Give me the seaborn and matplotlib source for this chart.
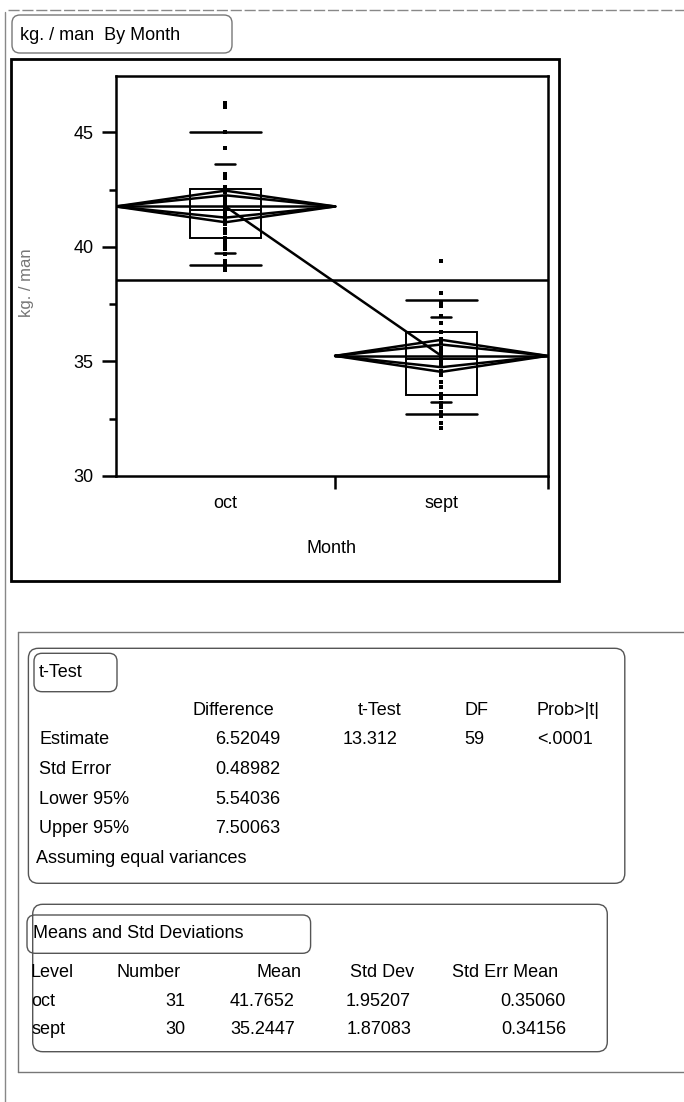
import matplotlib.pyplot as plt
import pandas as pd
import seaborn as sns
from matplotlib.patches import FancyBboxPatch, Rectangle

# ---- data ----
months = ["oct", "sept"]
counts = [31, 30]

oct_values = [
    46.3, 46.1, 45.0, 44.3, 43.2, 43.0, 42.6, 42.4, 42.2, 42.1, 42.0,
    41.9, 41.8, 41.7, 41.6, 41.5, 41.4, 41.3, 41.2, 41.0, 40.8, 40.6,
    40.4, 40.2, 40.1, 39.9, 39.7, 39.4, 39.2, 39.1, 39.0,
]
sept_values = [
    39.4, 38.0, 37.6, 37.4, 37.0, 36.7, 36.3, 36.0, 35.8, 35.6, 35.5,
    35.4, 35.3, 35.2, 35.1, 35.0, 34.9, 34.8, 34.6, 34.4, 34.1, 33.9,
    33.6, 33.4, 33.2, 33.0, 32.8, 32.6, 32.3, 32.1,
]

group_means = [41.7652, 35.2447]
ci_half = [0.69, 0.70]
grand_mean = 38.56
q25 = [40.39, 33.55]
q50 = [41.6, 35.1]
q75 = [42.52, 36.27]
q10 = [39.23, 32.70]
q90 = [45.0, 37.68]
sd_low = [39.74, 33.25]
sd_high = [43.64, 36.94]

yticks = [30, 35, 40, 45]
yminor = [32.5, 37.5, 42.5]

ttest_rows = ["Estimate", "Std Error", "Lower 95%", "Upper 95%"]
ttest_diff = ["6.52049", "0.48982", "5.54036", "7.50063"]
ttest_stat = "13.312"
ttest_df = "59"
ttest_prob = "<.0001"

level_names = ["oct", "sept"]
level_number = ["31", "30"]
level_mean = ["41.7652", "35.2447"]
level_sd = ["1.95207", "1.87083"]
level_sem = ["0.35060", "0.34156"]

# ---- layout helpers ----
W, H = 684, 1102
FS = 13
LW = 1.8

sns.set_theme(style="white")
plt.rcParams["font.family"] = ["Liberation Sans", "DejaVu Sans"]
plt.rcParams["text.color"] = "black"
plt.rcParams["axes.labelcolor"] = "black"
plt.rcParams["xtick.color"] = "black"
plt.rcParams["ytick.color"] = "black"

fig = plt.figure(figsize=(W / 100, H / 100), dpi=100)
fig.patch.set_facecolor("white")

deco = fig.add_axes([0, 0, 1, 1], zorder=0)
deco.set_xlim(0, W)
deco.set_ylim(H, 0)
deco.axis("off")

ax = fig.add_axes(
    [115.6 / W, (H - 476) / H, 432 / W, 400 / H],
    zorder=1,
)
ax.set_facecolor("none")

# group regions along x are proportional to counts
edges = [0, counts[0], counts[0] + counts[1]]
centers = [(edges[i] + edges[i + 1]) / 2 for i in range(2)]

points = pd.DataFrame({
    "pos": [centers[0]] * len(oct_values) + [centers[1]] * len(sept_values),
    "value": oct_values + sept_values,
})
means_df = pd.DataFrame({"pos": centers, "mean": group_means})

sns.scatterplot(
    data=points,
    x="pos",
    y="value",
    marker="s",
    s=9,
    color="black",
    linewidth=0,
    ax=ax,
    zorder=4,
)

sns.lineplot(
    data=means_df,
    x="pos",
    y="mean",
    color="black",
    linewidth=LW,
    ax=ax,
    zorder=5,
)

ax.axhline(grand_mean, color="black", linewidth=LW, zorder=3)

for i in range(2):
    x0, x1, xc = edges[i], edges[i + 1], centers[i]
    m = group_means[i]

    # means diamond plus inner overlap diamond
    for f in [1.0, 0.707]:
        h = ci_half[i] * f
        ax.plot(
            [x0, xc, x1, xc, x0],
            [m, m + h, m, m - h, m],
            color="black",
            linewidth=LW,
            zorder=3,
        )
    ax.plot([x0, x1], [m, m], color="black", linewidth=LW, zorder=3)

    # quantile box
    ax.add_patch(Rectangle(
        (xc - 5, q25[i]),
        10,
        q75[i] - q25[i],
        fill=False,
        edgecolor="black",
        linewidth=1.4,
        zorder=3,
    ))
    ax.plot([xc - 5, xc + 5], [q50[i], q50[i]], color="black", linewidth=1.4)
    for q in [q10[i], q90[i]]:
        ax.plot([xc - 5, xc + 5], [q, q], color="black", linewidth=LW)
    for q in [sd_low[i], sd_high[i]]:
        ax.plot([xc - 1.4, xc + 1.4], [q, q], color="black", linewidth=LW)

ax.set_xlim(0, edges[-1])
ax.set_ylim(30, 47.46)

ax.set_yticks(yticks)
ax.set_yticklabels([str(t) for t in yticks], fontsize=FS)
ax.set_yticks(yminor, minor=True)
ax.set_xticks(centers)
ax.set_xticklabels(months, fontsize=FS)
ax.set_xticks(edges[1:], minor=True)

ax.tick_params(axis="y", which="major", length=10, width=LW,
               direction="out", pad=6, left=True)
ax.tick_params(axis="y", which="minor", length=5, width=LW,
               direction="out", left=True)
ax.tick_params(axis="x", which="major", length=0, pad=14)
ax.tick_params(axis="x", which="minor", length=9, width=LW,
               direction="out", bottom=True)

ax.set_xlabel("Month", fontsize=FS, labelpad=20)
ax.set_ylabel("")

for side in ["left", "right", "top", "bottom"]:
    ax.spines[side].set_visible(True)
    ax.spines[side].set_color("black")
    ax.spines[side].set_linewidth(LW)

# faded y label as in the scan
deco.text(26, 283, "kg. / man", rotation=90, ha="center", va="center",
          fontsize=FS - 1, color="#777777")

# ---- page frame and boxes ----
deco.plot([8, W], [10, 10], color="#888888", linewidth=1, linestyle=(0, (8, 2)))
deco.plot([5, 5], [12, H], color="#888888", linewidth=1)

deco.add_patch(FancyBboxPatch(
    (12, 15), 220, 38,
    boxstyle="round,pad=0,rounding_size=8",
    fill=False, edgecolor="#777777", linewidth=1,
))
deco.text(19.6, 35, "kg. / man  By Month", ha="left", va="center", fontsize=FS)

deco.add_patch(Rectangle(
    (11, 59), 547.5, 521.7,
    fill=False, edgecolor="black", linewidth=2,
))

deco.plot([17.5, W], [631.7, 631.7], color="#777777", linewidth=1)
deco.plot([17.5, 17.5], [631.7, 1071.7], color="#777777", linewidth=1)
deco.plot([17.5, W], [1071.7, 1071.7], color="#777777", linewidth=1)

# t-Test table
deco.add_patch(FancyBboxPatch(
    (28.4, 648.3), 596.4, 235,
    boxstyle="round,pad=0,rounding_size=10",
    fill=False, edgecolor="#555555", linewidth=1,
))
deco.add_patch(FancyBboxPatch(
    (34, 653.3), 83, 38.4,
    boxstyle="round,pad=0,rounding_size=8",
    fill=False, edgecolor="#555555", linewidth=1,
))
deco.text(39, 672.7, "t-Test", ha="left", va="center", fontsize=FS)

header_y = 710.7
for label, xr in zip(["Difference", "t-Test", "DF", "Prob>|t|"],
                     [274, 402, 489, 600]):
    deco.text(xr, header_y, label, ha="right", va="center", fontsize=FS)

row_y = [740, 769.5, 799, 828.5]
for label, val, y in zip(ttest_rows, ttest_diff, row_y):
    deco.text(39.3, y, label, ha="left", va="center", fontsize=FS)
    deco.text(280.5, y, val, ha="right", va="center", fontsize=FS)
deco.text(398, row_y[0], ttest_stat, ha="right", va="center", fontsize=FS)
deco.text(484, row_y[0], ttest_df, ha="right", va="center", fontsize=FS)
deco.text(593, row_y[0], ttest_prob, ha="right", va="center", fontsize=FS)
deco.text(35.8, 858.3, "Assuming equal variances",
          ha="left", va="center", fontsize=FS)

# Means and Std Deviations table
deco.add_patch(FancyBboxPatch(
    (32.7, 904.3), 574.6, 147.4,
    boxstyle="round,pad=0,rounding_size=10",
    fill=False, edgecolor="#555555", linewidth=1,
))
deco.add_patch(FancyBboxPatch(
    (27, 915), 283.6, 38.3,
    boxstyle="round,pad=0,rounding_size=8",
    fill=False, edgecolor="#555555", linewidth=1,
))
deco.text(32.7, 934, "Means and Std Deviations",
          ha="left", va="center", fontsize=FS)

deco.text(31, 972.3, "Level", ha="left", va="center", fontsize=FS)
for label, xr in zip(["Number", "Mean", "Std Dev", "Std Err Mean"],
                     [181, 302, 414, 558.5]):
    deco.text(xr, 972.3, label, ha="right", va="center", fontsize=FS)

for i, y in enumerate([1001, 1030]):
    deco.text(31, y, level_names[i], ha="left", va="center", fontsize=FS)
    deco.text(185.4, y, level_number[i], ha="right", va="center", fontsize=FS)
    deco.text(295, y, level_mean[i], ha="right", va="center", fontsize=FS)
    deco.text(411, y, level_sd[i], ha="right", va="center", fontsize=FS)
    deco.text(566, y, level_sem[i], ha="right", va="center", fontsize=FS)

fig.savefig("out.png", dpi=100, facecolor="white")
plt.close(fig)
